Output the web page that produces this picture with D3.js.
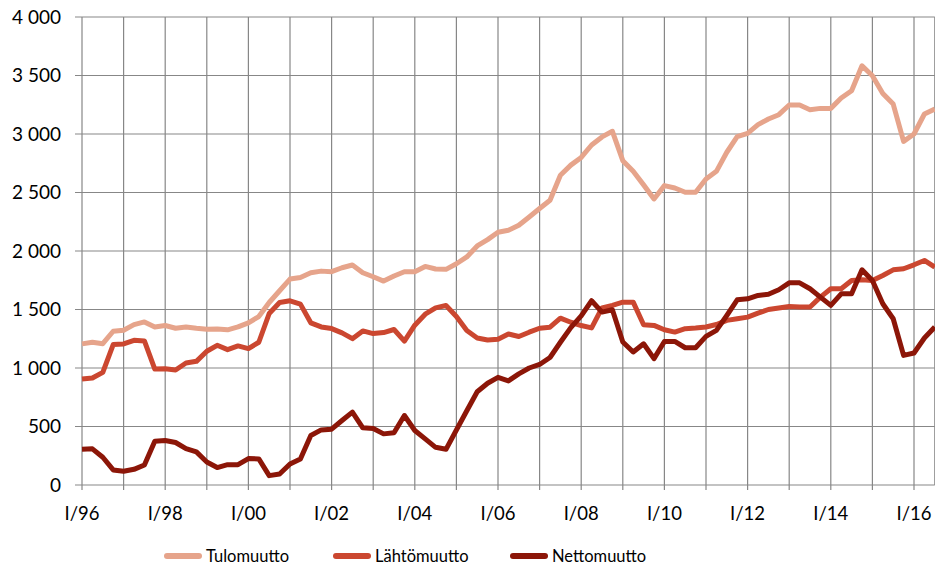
<!DOCTYPE html>
<html>
<head>
<meta charset="utf-8">
<script src="https://cdn.jsdelivr.net/npm/d3@7"></script>
<style>
  body { margin: 0; background: #fff; }
  svg { display: block; font-family: Lato, "Open Sans", sans-serif; }
</style>
</head>
<body>
<svg id="chart" width="935" height="567"></svg>
<script>
// years on the category axis, four quarters each (last year runs to III)
var years = ["96","97","98","99","00","01","02","03","04","05","06","07","08","09","10","11","12","13","14","15","16"];
var quarterNames = ["I","II","III","IV"];
var tickLabels = ["I/96","I/98","I/00","I/02","I/04","I/06","I/08","I/10","I/12","I/14","I/16"];
var yTicks = [0, 500, 1000, 1500, 2000, 2500, 3000, 3500, 4000];

// quarterly values
var tulomuutto = [1206,1220,1208,1314,1323,1371,1394,1351,1363,1340,1351,1340,1331,1334,1326,1351,
  1386,1440,1560,1660,1760,1774,1814,1828,1823,1857,1880,1814,1780,1743,1786,1823,
  1823,1868,1846,1843,1891,1949,2043,2097,2160,2177,2220,2291,2363,2434,2648,2734,
  2800,2906,2975,3023,2772,2681,2565,2445,2559,2539,2502,2502,2616,2681,2844,2977,
  3006,3080,3128,3165,3248,3248,3208,3219,3219,3307,3370,3583,3498,3347,3256,2937,
  3000,3171,3213];
var lahtomuutto = [906,914,963,1200,1206,1237,1231,991,994,983,1043,1057,1143,1194,1157,1189,
  1166,1220,1466,1560,1574,1546,1386,1351,1337,1300,1251,1317,1294,1303,1329,1229,
  1366,1460,1514,1534,1440,1320,1257,1240,1246,1291,1269,1306,1340,1349,1426,1391,
  1363,1343,1514,1535,1563,1563,1370,1364,1327,1307,1336,1341,1350,1372,1407,1421,
  1435,1469,1500,1512,1526,1521,1521,1606,1677,1677,1748,1754,1748,1791,1839,1848,
  1882,1919,1862];
var nettomuutto = [306,309,237,129,117,134,171,374,380,363,311,283,197,149,174,174,
  226,223,80,94,180,223,423,471,477,551,623,489,483,437,446,594,
  466,394,322,305,470,635,797,870,920,890,950,1000,1030,1090,1220,1345,
  1445,1575,1478,1498,1222,1137,1207,1080,1227,1227,1173,1173,1270,1321,1449,1583,
  1591,1620,1630,1669,1728,1728,1677,1606,1535,1634,1634,1839,1748,1549,1421,1108,
  1128,1256,1350];

var seriesNames = ["Tulomuutto", "Lähtömuutto", "Nettomuutto"];
var seriesColors = ["#E6A48B", "#CB4730", "#8C1608"];

var quarters = [];
years.forEach(function(y) {
  quarterNames.forEach(function(q) {
    if (quarters.length < tulomuutto.length) quarters.push(q + "/" + y);
  });
});

var series = [tulomuutto, lahtomuutto, nettomuutto].map(function(vals, k) {
  return { name: seriesNames[k], color: seriesColors[k], values: vals };
});

var svg = d3.select("#chart");
var plotLeft = 82, plotRight = 934.8, plotTop = 17, plotBottom = 485;

var x = d3.scalePoint().domain(quarters).range([plotLeft, plotRight]);
var y = d3.scaleLinear().domain([0, 4000]).range([plotBottom, plotTop]);

var gridColor = "#878787";
var fmt = function(d) { return d3.format(",")(d).replace(/,/g, " "); };

// horizontal gridlines with small outward ticks
svg.append("g").selectAll("line")
  .data(yTicks)
  .enter()
  .append("line")
  .attr("x1", plotLeft - 7)
  .attr("x2", plotRight)
  .attr("y1", function(d) { return y(d); })
  .attr("y2", function(d) { return y(d); })
  .attr("stroke", gridColor)
  .attr("stroke-width", 1.2);

// vertical gridlines every year
var yearStarts = quarters.filter(function(q) { return q.indexOf("I/") === 0; });
svg.append("g").selectAll("line")
  .data(yearStarts)
  .enter()
  .append("line")
  .attr("x1", function(d) { return x(d); })
  .attr("x2", function(d) { return x(d); })
  .attr("y1", plotTop)
  .attr("y2", plotBottom + 5)
  .attr("stroke", gridColor)
  .attr("stroke-width", 1.2);

svg.append("line")
  .attr("x1", x(quarters[quarters.length - 1]))
  .attr("x2", x(quarters[quarters.length - 1]))
  .attr("y1", plotTop).attr("y2", plotBottom)
  .attr("stroke", gridColor).attr("stroke-width", 1.2);

// y labels
svg.append("g").selectAll("text")
  .data(yTicks)
  .enter()
  .append("text")
  .attr("x", 61)
  .attr("y", function(d) { return y(d); })
  .attr("dy", "0.35em")
  .attr("text-anchor", "end")
  .attr("font-size", 19)
  .attr("fill", "#000")
  .text(fmt);

// x labels
svg.append("g").selectAll("text")
  .data(tickLabels)
  .enter()
  .append("text")
  .attr("x", function(d) { return x(d); })
  .attr("y", 520)
  .attr("text-anchor", "middle")
  .attr("font-size", 18.5)
  .attr("fill", "#000")
  .text(function(d) { return d; });

// lines
var line = d3.line()
  .x(function(d, i) { return x(quarters[i]); })
  .y(function(d) { return y(d); });

svg.append("g").selectAll("path")
  .data(series)
  .enter()
  .append("path")
  .attr("d", function(d) { return line(d.values); })
  .attr("fill", "none")
  .attr("stroke", function(d) { return d.color; })
  .attr("stroke-width", 5)
  .attr("stroke-linejoin", "round");

// legend
var legendX = [167, 336, 513];
var legend = svg.append("g").selectAll("g")
  .data(series)
  .enter()
  .append("g")
  .attr("transform", function(d, i) { return "translate(" + legendX[i] + ",556)"; });

legend.append("line")
  .attr("x1", 0).attr("x2", 32)
  .attr("y1", 0).attr("y2", 0)
  .attr("stroke", function(d) { return d.color; })
  .attr("stroke-width", 6)
  .attr("stroke-linecap", "round");

legend.append("text")
  .attr("x", 39)
  .attr("y", 0)
  .attr("dy", "0.35em")
  .attr("font-size", 16.5)
  .attr("fill", "#000")
  .text(function(d) { return d.name; });
</script>
</body>
</html>
